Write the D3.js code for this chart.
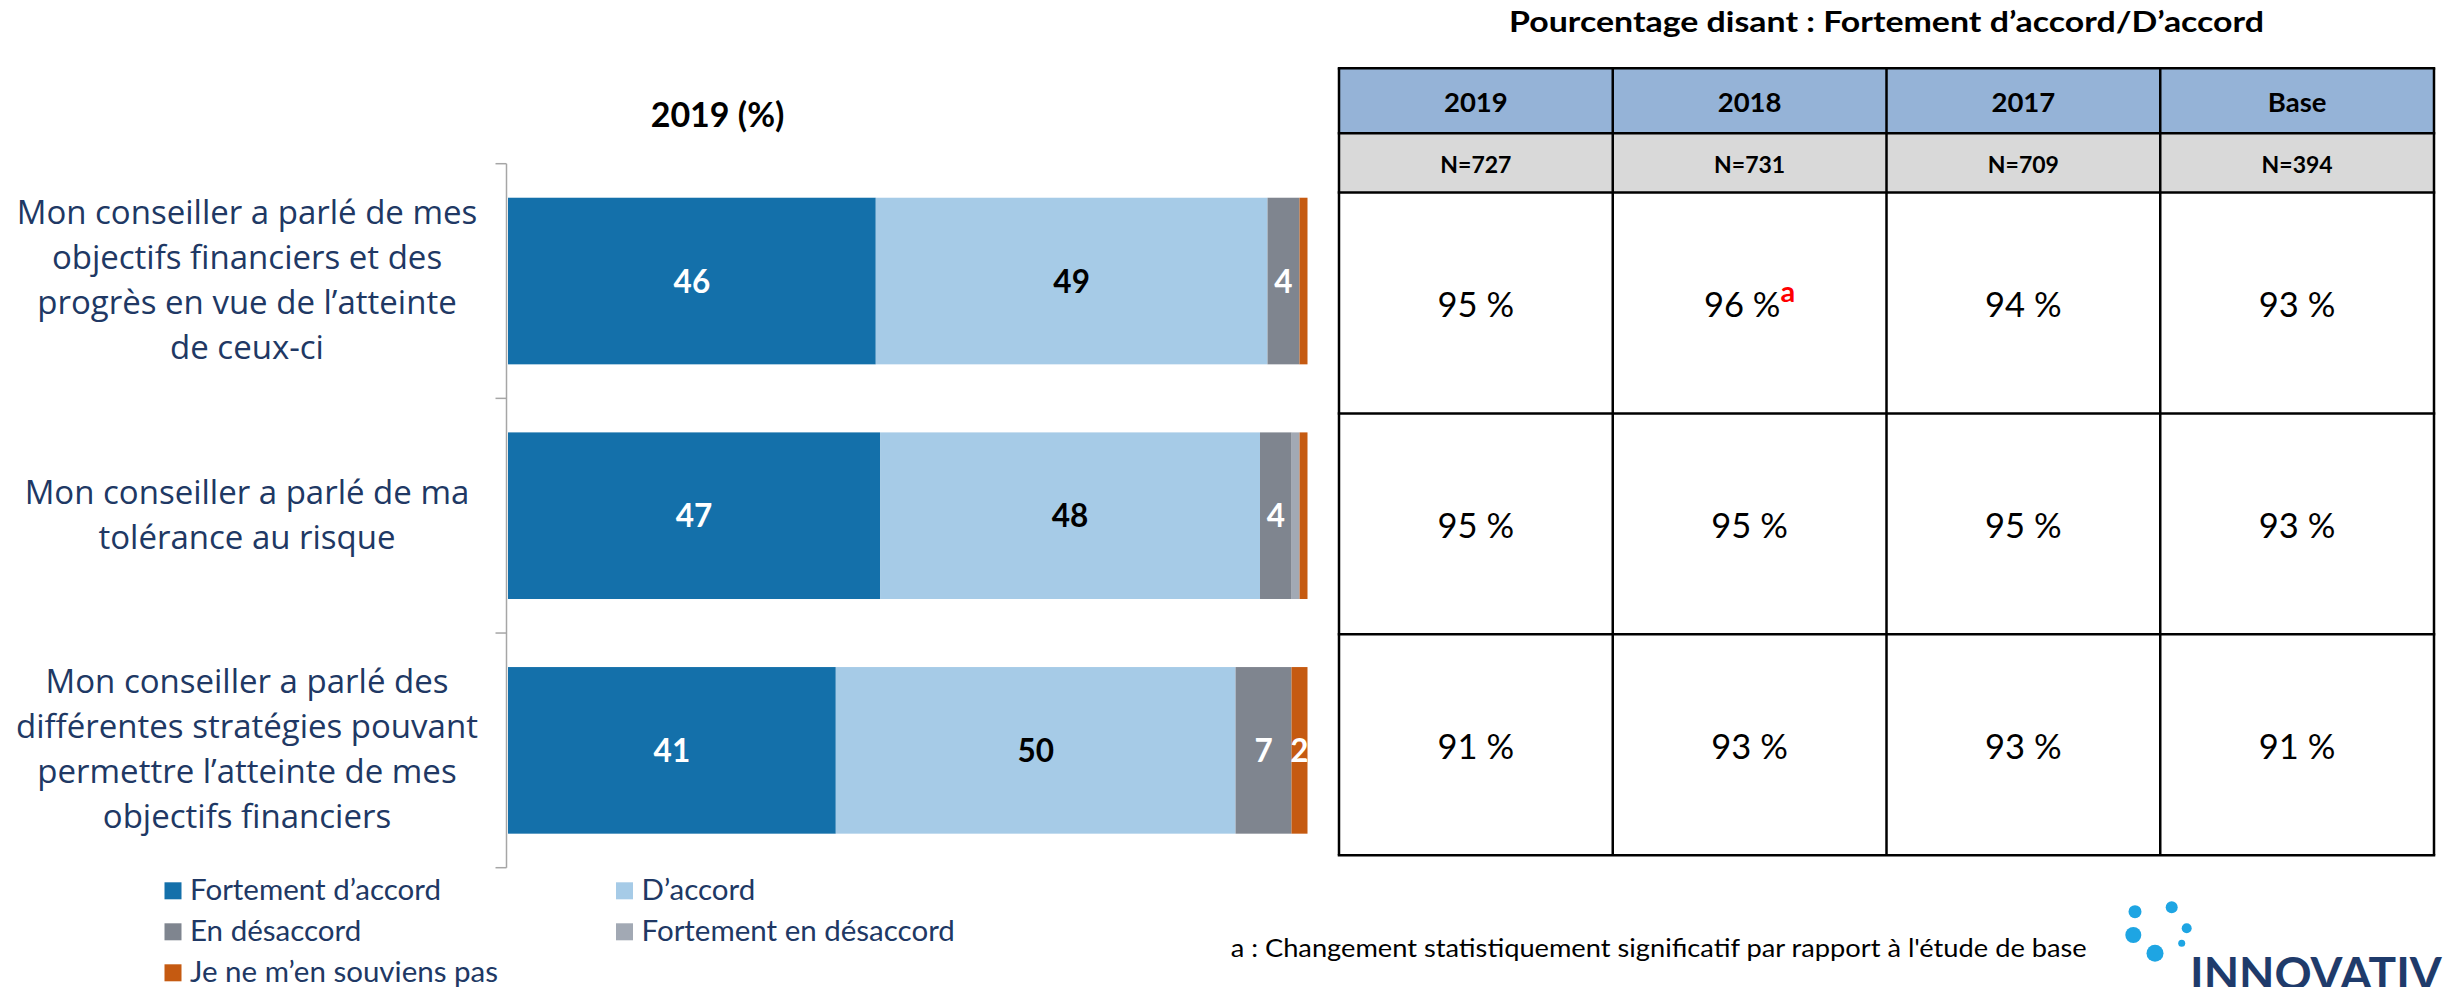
<!DOCTYPE html>
<html>
<head>
<meta charset="utf-8">
<title>Conseiller - 2019 (%)</title>
<script src="https://cdn.jsdelivr.net/npm/d3@7"></script>
<style>
  body { margin: 0; background: #fff; }
  svg { display: block; }
  text { font-family: Lato, "Liberation Sans", sans-serif; }
  .cat { font-family: "Open Sans", sans-serif; font-size: 33px; fill: #203864; }
  .legend text { font-size: 29.5px; fill: #203864; }
</style>
</head>
<body>
<svg id="chart" width="2443" height="987"></svg>
<script>
// categories (one entry per bar, already split in lines as on the slide)
const categories = [
  ["Mon conseiller a parlé de mes", "objectifs financiers et des", "progrès en vue de l’atteinte", "de ceux-ci"],
  ["Mon conseiller a parlé de ma", "tolérance au risque"],
  ["Mon conseiller a parlé des", "différentes stratégies pouvant", "permettre l’atteinte de mes", "objectifs financiers"]
];
const seriesNames = ["Fortement d’accord", "D’accord", "En désaccord", "Fortement en désaccord", "Je ne m’en souviens pas"];
const seriesColors = ["#1470aa", "#a6cbe7", "#7f858f", "#a2a9b4", "#c55a11"];

// 2019 (%) values
const fortementDaccord = [46, 47, 41];
const daccord = [49, 48, 50];
const enDesaccord = [4, 4, 7];
const fortementEnDesaccord = [0, 1, 0];
const neSouvientPas = [1, 1, 2];

// table
const tableTitle = "Pourcentage disant : Fortement d’accord/D’accord";
const tableYears = ["2019", "2018", "2017", "Base"];
const tableN = ["N=727", "N=731", "N=709", "N=394"];
const tableRow1 = [95, 96, 94, 93];
const tableRow2 = [95, 95, 95, 93];
const tableRow3 = [91, 93, 93, 91];
const tableSig1 = ["", "a", "", ""];
const tableSig2 = ["", "", "", ""];
const tableSig3 = ["", "", "", ""];
const footnote = "a : Changement statistiquement significatif par rapport à l'étude de base";

const svg = d3.select("#chart");

// ---------- stacked bars ----------
const seriesValues = [fortementDaccord, daccord, enDesaccord, fortementEnDesaccord, neSouvientPas];
const rows = categories.map((c, i) => {
  let r = { idx: i };
  seriesNames.forEach((s, k) => r[s] = seriesValues[k][i]);
  return r;
});

// each bar fills 100 % of the width
const stack = d3.stack().keys(seriesNames).offset(d3.stackOffsetExpand);
const layers = stack(rows);

const x = d3.scaleLinear().domain([0, 1]).range([508, 1307.5]);
const y = d3.scaleBand().domain(d3.range(categories.length))
              .range([163.7, 867.7]).paddingInner(0.29).paddingOuter(0.145);

const layerG = svg.append("g").selectAll("g")
  .data(layers).join("g")
  .attr("fill", (d, i) => seriesColors[i]);

layerG.selectAll("rect")
  .data(d => d)
  .join("rect")
  .attr("x", d => x(d[0]))
  .attr("y", d => y(d.data.idx))
  .attr("width", d => x(d[1]) - x(d[0]))
  .attr("height", y.bandwidth());

// value labels (slices of 1 are not labelled)
layerG.each(function(layer, li) {
  d3.select(this).selectAll("text")
    .data(layer.filter(d => d.data[layer.key] >= 2))
    .join("text")
    .attr("x", d => (x(d[0]) + x(d[1])) / 2)
    .attr("y", d => y(d.data.idx) + y.bandwidth() / 2 + 11.5)
    .attr("text-anchor", "middle")
    .attr("font-size", 31.5)
    .attr("font-weight", "bold")
    .attr("fill", li == 1 ? "#000" : "#fff")
    .text(d => d.data[layer.key]);
});

// bracket axis on the left
const r0 = y.range()[0];
const axisX = 506.5;
svg.append("line")
  .attr("x1", axisX).attr("x2", axisX)
  .attr("y1", r0).attr("y2", y.range()[1])
  .attr("stroke", "#a6a6a6").attr("stroke-width", 1.5);
svg.append("g").selectAll("line")
  .data(d3.range(categories.length + 1))
  .join("line")
  .attr("x1", axisX - 11).attr("x2", axisX)
  .attr("y1", i => r0 + i * y.step()).attr("y2", i => r0 + i * y.step())
  .attr("stroke", "#a6a6a6").attr("stroke-width", 1.5);

// category labels
svg.append("g").selectAll("text")
  .data(categories)
  .join("text")
  .attr("class", "cat")
  .attr("text-anchor", "middle")
  .each(function(lines, i) {
    const yc = y(i) + y.bandwidth() / 2;
    d3.select(this).selectAll("tspan")
      .data(lines).join("tspan")
      .attr("x", 247)
      .attr("y", (l, j) => yc + (j - (lines.length - 1) / 2) * 45 + 10.5)
      .text(l => l);
  });

// chart title
svg.append("text")
  .attr("x", 717.5).attr("y", 127)
  .attr("text-anchor", "middle")
  .attr("font-size", 34).attr("font-weight", "bold")
  .text("2019 (%)");

// legend
const legend = svg.append("g").attr("class", "legend");
const legItems = legend.selectAll("g")
  .data(seriesNames).join("g")
  .attr("transform", (d, i) => `translate(${[164.5, 616][i % 2]},${882.3 + Math.floor(i / 2) * 41})`);
legItems.append("rect")
  .attr("width", 17).attr("height", 17)
  .attr("fill", (d, i) => seriesColors[i]);
legItems.append("text")
  .attr("x", 25.5).attr("y", 17.5)
  .text(d => d);

// ---------- table ----------
const col = d3.scaleBand().domain(tableYears).range([1339, 2434]);
const headTop = 68.3, headMid = 133.3, headBot = 192.5;
const rowY = d3.scaleBand().domain(d3.range(3)).range([headBot, 855.2]);
const tableRows = [tableRow1, tableRow2, tableRow3];
const tableSig = [tableSig1, tableSig2, tableSig3];

const tbl = svg.append("g");
tbl.append("rect")
  .attr("x", col.range()[0]).attr("y", headTop)
  .attr("width", col.range()[1] - col.range()[0]).attr("height", headMid - headTop)
  .attr("fill", "#95b3d7");
tbl.append("rect")
  .attr("x", col.range()[0]).attr("y", headMid)
  .attr("width", col.range()[1] - col.range()[0]).attr("height", headBot - headMid)
  .attr("fill", "#d9d9d9");

tbl.selectAll("text.year")
  .data(tableYears).join("text")
  .attr("class", "year")
  .attr("x", d => col(d) + col.bandwidth() / 2)
  .attr("y", (headTop + headMid) / 2 + 11.5)
  .attr("text-anchor", "middle")
  .attr("font-size", 27.5).attr("font-weight", "bold")
  .text(d => d);

tbl.selectAll("text.n")
  .data(tableN).join("text")
  .attr("class", "n")
  .attr("x", (d, i) => col(tableYears[i]) + col.bandwidth() / 2)
  .attr("y", (headMid + headBot) / 2 + 9.8)
  .attr("text-anchor", "middle")
  .attr("font-size", 23).attr("font-weight", "bold")
  .text(d => d);

tableRows.forEach((vals, r) => {
  const cells = tbl.append("g").selectAll("text")
    .data(vals).join("text")
    .attr("x", (d, i) => col(tableYears[i]) + col.bandwidth() / 2)
    .attr("y", rowY(r) + rowY.bandwidth() / 2 + 14)
    .attr("text-anchor", "middle")
    .attr("font-size", 34.5);
  cells.append("tspan").text(d => d + " %");
  cells.each(function(d, i) {
    if (tableSig[r][i] == "") return;
    d3.select(this).append("tspan")
      .attr("dy", -15)
      .attr("font-size", 29).attr("font-weight", "bold")
      .attr("fill", "#ff0000")
      .text(tableSig[r][i]);
  });
});

// grid lines
const vLines = tableYears.map(c => col(c)).concat([col.range()[1]]);
const hLines = [headTop, headMid, headBot].concat(d3.range(1, 4).map(i => rowY.range()[0] + i * rowY.step()));
tbl.selectAll("line.v")
  .data(vLines).join("line")
  .attr("x1", d => d).attr("x2", d => d)
  .attr("y1", headTop).attr("y2", hLines[hLines.length - 1])
  .attr("stroke", "#000").attr("stroke-width", 2.5);
tbl.selectAll("line.h")
  .data(hLines).join("line")
  .attr("x1", vLines[0] - 1.25).attr("x2", vLines[vLines.length - 1] + 1.25)
  .attr("y1", d => d).attr("y2", d => d)
  .attr("stroke", "#000").attr("stroke-width", 2.5);

// table title
svg.append("text")
  .attr("x", 1886.5).attr("y", 32)
  .attr("text-anchor", "middle")
  .attr("font-size", 28).attr("font-weight", "bold")
  .attr("textLength", 755).attr("lengthAdjust", "spacingAndGlyphs")
  .text(tableTitle);

// footnote
svg.append("text")
  .attr("x", 1230.7).attr("y", 957)
  .attr("font-size", 25.5)
  .attr("textLength", 856).attr("lengthAdjust", "spacingAndGlyphs")
  .text(footnote);

// logo (cropped at the right edge like on the slide)
const logo = svg.append("g");
const dots = [[2135, 911.7, 6.5], [2171.7, 907.3, 6], [2133.3, 935, 8], [2186.7, 928.3, 5], [2181.7, 943.3, 3.5], [2155, 953.3, 8.5]];
logo.selectAll("circle").data(dots).join("circle")
  .attr("cx", d => d[0]).attr("cy", d => d[1]).attr("r", d => d[2])
  .attr("fill", "#1ea5e3");
logo.append("text")
  .attr("x", 2190).attr("y", 990)
  .attr("font-size", 46).attr("font-weight", "bold")
  .attr("fill", "#1f3b6b")
  .text("INNOVATIVE");
</script>
</body>
</html>
